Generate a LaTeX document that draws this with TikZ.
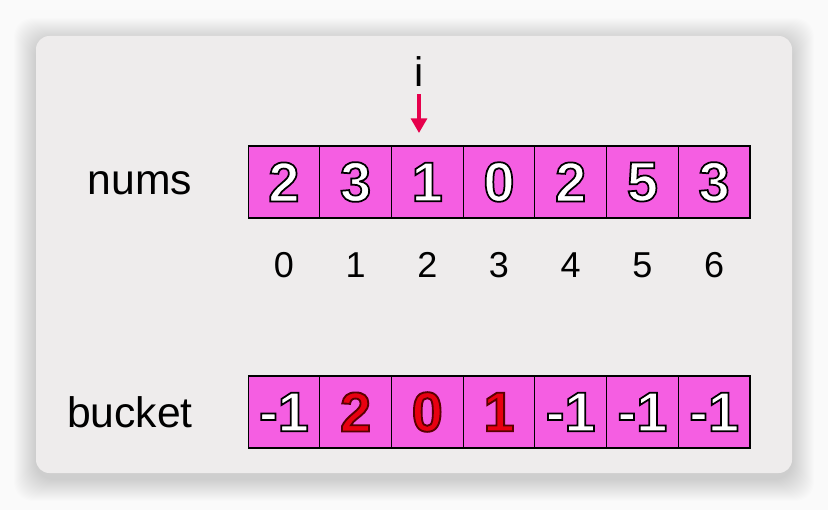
\documentclass[tikz,border=0pt]{standalone}
\usepackage{fontspec}
\setmainfont{Liberation Sans}
\usepackage{xcolor}
\usetikzlibrary{arrows.meta,positioning}
\definecolor{bkPage}{HTML}{FAFAFA}
\definecolor{bkCard}{HTML}{EEECEC}
\definecolor{bkCell}{HTML}{F55EE2}
\definecolor{bkRed}{HTML}{E80010}
\definecolor{bkArrow}{HTML}{E6004C}
% outlined digits: fill + stroke
\newcommand{\outlw}[1]{\special{pdf:code 2 Tr 0 G 1.3 w}#1\special{pdf:code 0 Tr}}
\newcommand{\outlr}[1]{\special{pdf:code 2 Tr 0.35 0 0 RG 1.4 w}#1\special{pdf:code 0 Tr}}
\tikzset{
  cell/.style={draw=black, line width=0.8pt, fill=bkCell, minimum width=53.8pt,
    minimum height=54pt, inner sep=0pt, font=\fontsize{42}{42}\selectfont\bfseries},
  numcell/.style={cell, text=white},
  hitcell/.style={cell, text=bkRed},
  rowlabel/.style={font=\fontsize{32}{32}\selectfont, inner sep=0pt},
  idxlabel/.style={font=\fontsize{27}{27}\selectfont, inner sep=0pt},
  pointer/.style={-{Triangle[length=11pt, width=12pt]}, line width=2.4pt, bkArrow}
}
\begin{document}
\begin{tikzpicture}[x=0.75pt, y=-0.75pt]
  \useasboundingbox (0,0) rectangle (828,510);
  \fill[bkPage] (0,0) rectangle (828,510);
  % soft shadow of the card
  \foreach \s in {1,...,22}
    \fill[black, opacity=0.009, rounded corners=14pt]
      (36-\s,36-\s+4) rectangle (792+\s,473+\s+6);
  \fill[bkCard, rounded corners=10pt] (36,36) rectangle (792,473);
  % row labels
  \node[rowlabel] (nums) at (140,183) {nums};
  \node[rowlabel] (bucket) at (130,412) {bucket};
  % nums row and indices
  \foreach \v [count=\k from 0] in {2,3,1,0,2,5,3}{
    \node[numcell] (n\k) at ({283.9+71.7*\k},182) {\outlw{\v}};
    \node[idxlabel] (ix\k) at ({283.9+71.7*\k},265) {\k};
  }
  % bucket row
  \foreach \v/\t [count=\k from 0] in {-1/w,2/r,0/r,1/r,-1/w,-1/w,-1/w}{
    \if r\t
      \node[hitcell] (b\k) at ({283.9+71.7*\k},412) {\outlr{\v}};
    \else
      \node[numcell] (b\k) at ({283.9+71.7*\k},412) {\outlw{\v}};
    \fi
  }
  % pointer i
  \node[rowlabel, font=\fontsize{31}{31}\selectfont] (ptr) at (419,72) {i};
  \coordinate (tip) at (419,133);
  \draw[pointer] (ptr.south) ++(0,7) -- (tip);
\end{tikzpicture}
\end{document}
